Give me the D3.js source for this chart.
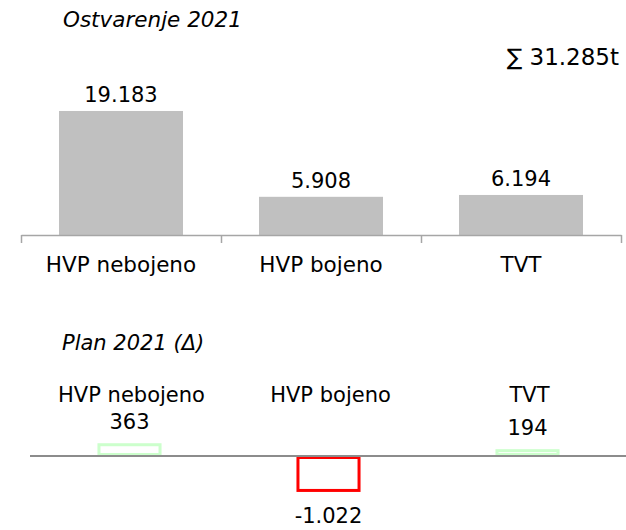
<!DOCTYPE html>
<html>
<head>
<meta charset="utf-8">
<script src="https://cdn.jsdelivr.net/npm/d3@7"></script>
<style>
  body { margin: 0; background: #fff; }
  svg text { font-family: Verdana, "DejaVu Sans", sans-serif; font-size: 21px; fill: #000; }
</style>
</head>
<body>
<div id="chart"></div>
<script>
var categories = ["HVP nebojeno", "HVP bojeno", "TVT"];
var actual2021 = [19183, 5908, 6194];
var planDelta = [363, -1022, 194];

var width = 626, height = 530;
var hr = d3.formatLocale({ decimal: ",", thousands: ".", grouping: [3], currency: ["", ""], minus: "-" });
var fmt = hr.format(",d");

var svg = d3.select("#chart").append("svg")
    .attr("width", width)
    .attr("height", height);

// ---- top chart: Ostvarenje 2021
svg.append("text")
    .attr("x", 63).attr("y", 27)
    .style("font-style", "italic")
    .style("font-size", "21.5px")
    .text("Ostvarenje 2021");

svg.append("text")
    .attr("x", 619).attr("y", 65)
    .attr("text-anchor", "end")
    .style("font-size", "23px")
    .text("\u2211 " + fmt(d3.sum(actual2021)) + "t");

var x1 = d3.scaleBand()
    .domain(categories)
    .range([21, 621])
    .paddingInner(0.38)
    .paddingOuter(0.19);

var y1 = d3.scaleLinear()
    .domain([0, 20000])
    .range([235, 105.7]);

var topChart = svg.append("g");

topChart.selectAll(".bar")
    .data(actual2021).enter().append("rect")
    .attr("class", "bar")
    .attr("x", function(d, i){ return x1(categories[i]); })
    .attr("width", x1.bandwidth())
    .attr("y", function(d){ return y1(d); })
    .attr("height", function(d){ return y1(0) - y1(d); })
    .attr("fill", "#c0c0c0");

topChart.selectAll(".val")
    .data(actual2021).enter().append("text")
    .attr("class", "val")
    .attr("x", function(d, i){ return x1(categories[i]) + x1.bandwidth() / 2; })
    .attr("y", function(d){ return y1(d) - 9; })
    .attr("text-anchor", "middle")
    .text(function(d){ return fmt(d); });

// boundary ticks between categories
var edge = d3.scaleLinear().domain([0, categories.length]).range([21, 621]);
var edgeAxis = topChart.append("g")
    .attr("transform", "translate(0," + y1(0) + ")")
    .call(d3.axisBottom(edge).tickValues([0, 1, 2, 3]).tickSize(8).tickSizeOuter(0).tickFormat(""));
edgeAxis.select(".domain").attr("stroke", "#a6a6a6").attr("stroke-width", 1.5);
edgeAxis.selectAll(".tick line").attr("stroke", "#a6a6a6").attr("stroke-width", 1.5);

var catAxis = topChart.append("g")
    .attr("transform", "translate(0," + y1(0) + ")")
    .call(d3.axisBottom(x1).tickSize(0));
catAxis.select(".domain").remove();
catAxis.selectAll("text")
    .attr("dy", null)
    .attr("y", 37)
    .style("font-size", "21.5px")
    .style("font-family", "Verdana, 'DejaVu Sans', sans-serif")
    .attr("fill", "#000");

// ---- bottom chart: Plan 2021 (delta)
svg.append("text")
    .attr("x", 62).attr("y", 350)
    .style("font-style", "italic")
    .text("Plan 2021 (\u0394)");

var x2 = d3.scaleBand()
    .domain(categories)
    .range([30, 627])
    .paddingInner(0.678)
    .paddingOuter(0.339);

var y2 = d3.scaleLinear()
    .domain([-1200, 600])
    .range([498.2, 434.9]);

var bottomChart = svg.append("g");

bottomChart.selectAll(".cat")
    .data(categories).enter().append("text")
    .attr("class", "cat")
    .attr("x", function(d){ return x2(d) + x2.bandwidth() / 2 + 2; })
    .attr("y", 402)
    .attr("text-anchor", "middle")
    .text(function(d){ return d; });

bottomChart.selectAll(".dbar")
    .data(planDelta).enter().append("rect")
    .attr("class", "dbar")
    .attr("x", function(d, i){ return x2(categories[i]) + 1.5; })
    .attr("width", x2.bandwidth() - 3)
    .attr("y", function(d){ return Math.min(y2(d), y2(0)) + 1.5; })
    .attr("height", function(d){ return Math.abs(y2(d) - y2(0)) - 3; })
    .attr("fill", "none")
    .attr("stroke", function(d){ return d < 0 ? "#ff0000" : "#ccffcc"; })
    .attr("stroke-width", 3);

bottomChart.append("line")
    .attr("x1", 30).attr("x2", 626)
    .attr("y1", y2(0)).attr("y2", y2(0))
    .attr("stroke", "#8c8c8c")
    .attr("stroke-width", 2);

bottomChart.selectAll(".dval")
    .data(planDelta).enter().append("text")
    .attr("class", "dval")
    .attr("x", function(d, i){ return x2(categories[i]) + x2.bandwidth() / 2; })
    .attr("y", function(d){ return d < 0 ? y2(d) + 31 : y2(d) - 14; })
    .attr("text-anchor", "middle")
    .text(function(d){ return fmt(d); });
</script>
</body>
</html>
